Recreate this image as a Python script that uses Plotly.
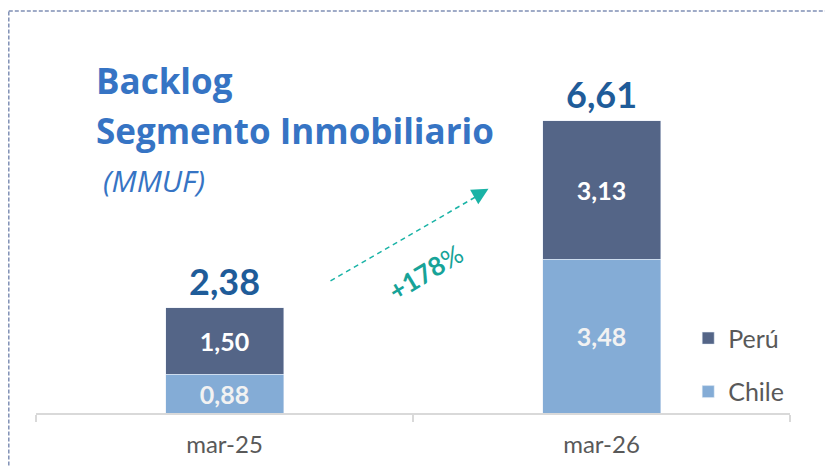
import plotly.graph_objects as go

categories = ["mar-25", "mar-26"]
chile = [0.88, 3.48]
peru = [1.50, 3.13]
totals = [2.38, 6.61]
growth_label = "<b>+178</b>%"

def fmt(v):
    return f"{v:.2f}".replace(".", ",")

C_PERU = "#546587"
C_CHILE = "#84acd6"
C_TOTAL = "#1f5c99"
C_TITLE = "#3674c4"
C_TEAL = "#1ab3a6"
C_GRAY = "#595959"

# page is offset by the default 8px body margin
W, H = 825, 459

fig = go.Figure()
fig.add_trace(go.Bar(
    x=categories, y=chile, name="Chile", marker_color=C_CHILE,
    text=[fmt(v) for v in chile], textposition="inside", insidetextanchor="middle",
    textfont=dict(family="Lato", size=25, color="#f2f2f2", weight="bold"),
    width=0.313, legendgroup="chile", legendrank=2,
))
fig.add_trace(go.Bar(
    x=categories, y=peru, name="Perú", marker_color=C_PERU,
    text=[fmt(v) for v in peru], textposition="inside", insidetextanchor="middle",
    textfont=dict(family="Lato", size=25, color="white", weight="bold"),
    width=0.313, legendgroup="peru", legendrank=1,
))

for c, t in zip(categories, totals):
    fig.add_annotation(x=c, y=t, xref="x", yref="y", text=f"<b>{fmt(t)}</b>",
                       showarrow=False, yanchor="bottom", yshift=3,
                       font=dict(family="Lato", size=36, color=C_TOTAL))

fig.update_layout(
    barmode="stack",
    width=W, height=H,
    margin=dict(l=28, r=43, t=29, b=54, autoexpand=False),
    plot_bgcolor="white", paper_bgcolor="white",
    showlegend=True,
    legend=dict(
        x=0.865, y=0.128, xanchor="left", yanchor="middle",
        traceorder="grouped", tracegroupgap=18,
        font=dict(family="Lato", size=25, color=C_GRAY),
        itemwidth=30, bgcolor="rgba(0,0,0,0)",
    ),
    xaxis=dict(
        type="category", range=[-0.5, 1.5], automargin=False,
        showline=True, linecolor="#d9d9d9", linewidth=1.5,
        ticks="outside", tickson="boundaries", ticklen=7, tickcolor="#d9d9d9", tickwidth=1.5,
        tickfont=dict(family="Lato", size=24, color=C_GRAY),
        showgrid=False, ticklabelstandoff=9,
    ),
    yaxis=dict(range=[0, 8.5], visible=False, showgrid=False),
)

# page-pixel helpers (plot area spans page x 36..790, page y 37..413)
def ppx(p):
    return (p - 36) / 754
def ppy(p):
    return (413 - p) / 376
def px2x(p):
    return (p - 224) / 377
def py2y(p):
    return (413 - p) / 44.2

# dashed border
fig.add_shape(type="rect", xref="paper", yref="paper",
              x0=ppx(8.8), x1=ppx(900), y0=ppy(11), y1=ppy(520),
              line=dict(color="#8090b5", width=1.5, dash="4px,2px"), layer="below")

# title
fig.add_annotation(xref="paper", yref="paper", x=ppx(94), y=ppy(80),
                   xanchor="left", yanchor="middle", showarrow=False,
                   text="<b>Backlog</b>",
                   font=dict(family="Open Sans", size=35, color=C_TITLE))
fig.add_annotation(xref="paper", yref="paper", x=ppx(94), y=ppy(130),
                   xanchor="left", yanchor="middle", showarrow=False,
                   text="<b>Segmento Inmobiliario</b>",
                   font=dict(family="Open Sans", size=35, color=C_TITLE))
fig.add_annotation(xref="paper", yref="paper", x=ppx(101), y=ppy(180),
                   xanchor="left", yanchor="middle", showarrow=False,
                   text="<i>(MMUF)</i>",
                   font=dict(family="Open Sans", size=30, color=C_TITLE))

# growth arrow
fig.add_shape(type="line", xref="x", yref="y",
              x0=px2x(330), y0=py2y(281), x1=px2x(477), y1=py2y(196),
              line=dict(color=C_TEAL, width=1.5, dash="5px,4px"))
fig.add_annotation(xref="x", yref="y", x=px2x(488), y=py2y(189),
                   ax=-14, ay=8, axref="pixel", ayref="pixel",
                   showarrow=True, arrowhead=2, arrowsize=2.2, arrowwidth=1.5,
                   arrowcolor=C_TEAL, text="")
fig.add_annotation(xref="x", yref="y", x=px2x(425), y=py2y(272),
                   showarrow=False, textangle=-31,
                   text=growth_label,
                   font=dict(family="Lato", size=26, color="#17a398"))

fig.write_html("out.html")
